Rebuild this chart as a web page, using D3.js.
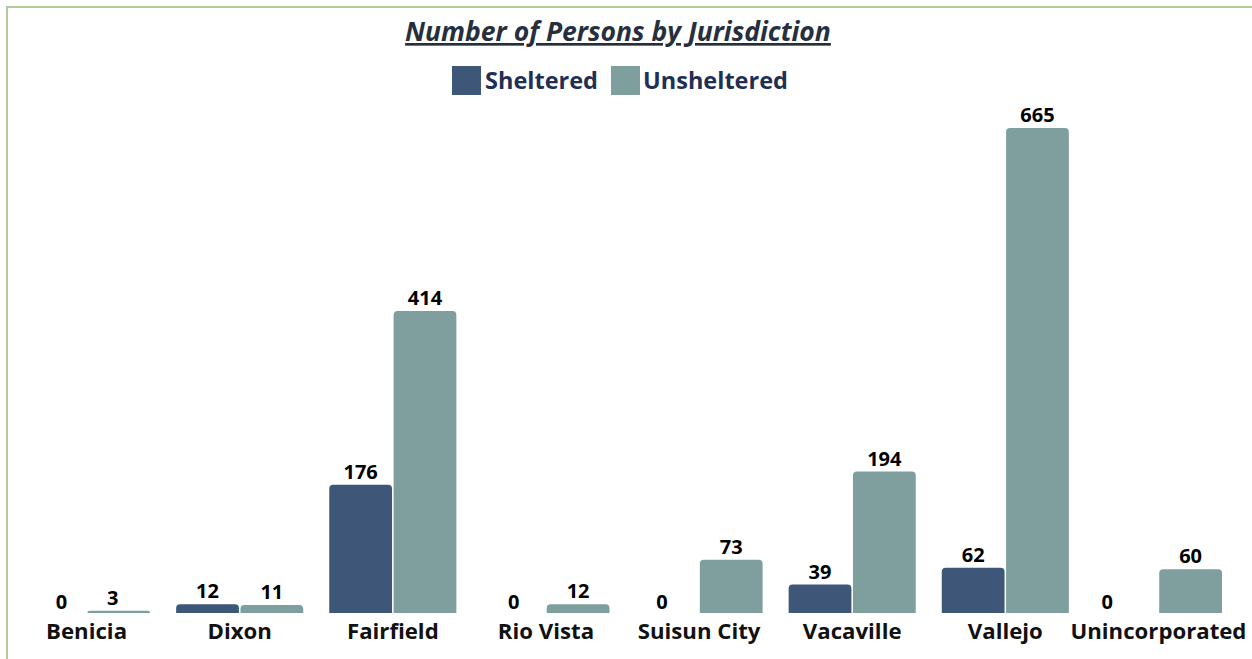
<!DOCTYPE html>
<html><head><meta charset="utf-8">
<script src="https://cdn.jsdelivr.net/npm/d3@7"></script>
<style>body{margin:0;background:#fff}svg{display:block;font-family:"Open Sans",sans-serif}</style>
</head><body>
<svg id="c" width="1252" height="659"></svg>
<script>
const categories = ["Benicia","Dixon","Fairfield","Rio Vista","Suisun City","Vacaville","Vallejo","Unincorporated"];
const sheltered = [0,12,176,0,0,39,62,0];
const unsheltered = [3,11,414,12,73,194,665,60];
const seriesNames = ["Sheltered","Unsheltered"];
const colors = ["#3E5779","#7F9F9F"];

const svg = d3.select("#c");
const W = 1252, H = 659;
svg.append("rect").attr("x",7).attr("y",7).attr("width",W+20).attr("height",H+20)
  .attr("fill","none").attr("stroke","#AECB98").attr("stroke-width",2);

svg.append("text").attr("x",618).attr("y",41).attr("text-anchor","middle")
  .attr("font-size",26.5).attr("font-weight",700).attr("font-style","italic")
  .attr("text-decoration","underline").attr("fill","#262F3E")
  .text("Number of Persons by Jurisdiction");

const legend = [{x:452,tx:485},{x:611,tx:643}];
seriesNames.forEach((n,i)=>{
  svg.append("rect").attr("x",legend[i].x).attr("y",66).attr("width",29).attr("height",29).attr("fill",colors[i]);
  svg.append("text").attr("x",legend[i].tx).attr("y",89).attr("font-size",23.5).attr("font-weight",700)
    .attr("fill","#1F2F55").text(n);
});

const baseline = 613;
const x0 = d3.scaleBand().domain(categories).range([10,1235]).paddingInner(0.17).paddingOuter(0.085);
const x1 = d3.scaleBand().domain(seriesNames).range([0,x0.bandwidth()]).paddingInner(0.024);
const y = d3.scaleLinear().domain([0,665]).range([baseline,128]);

// small horizontal label nudges (styling only), as in the original layout
const labelNudge = {"Benicia":[7,-6],"Suisun City":[-5,0],"Unincorporated":[-19,0]};

const data = categories.map((c,i)=>({c, vals:[sheltered[i],unsheltered[i]]}));
function barPath(x,w,yt,yb){
  const r = Math.min(4,(yb-yt));
  if (yb-yt<=0) return "";
  return `M${x},${yb}L${x},${yt+r}Q${x},${yt} ${x+r},${yt}L${x+w-r},${yt}Q${x+w},${yt} ${x+w},${yt+r}L${x+w},${yb}Z`;
}
const g = svg.append("g");
data.forEach(d=>{
  d.vals.forEach((v,i)=>{
    const bx = x0(d.c)+x1(seriesNames[i]);
    const bw = x1.bandwidth();
    const dx = (labelNudge[d.c]||[0,0])[i];
    g.append("path").attr("d",barPath(bx,bw,y(v),baseline)).attr("fill",colors[i]);
    g.append("text").attr("x",bx+bw/2+dx).attr("y",y(v)-(v===0?4:6)).attr("text-anchor","middle")
      .attr("font-size",20).attr("font-weight",700).attr("fill","#000").text(v);
  });
});

const ax = svg.append("g").attr("transform",`translate(0,${baseline})`)
  .call(d3.axisBottom(x0).tickSize(0).tickPadding(0));
ax.select(".domain").remove();
ax.selectAll("text").attr("dy",0).attr("y",26).attr("font-size",22.2).attr("font-weight",700)
  .attr("fill","#111").attr("font-family","'Open Sans',sans-serif");
</script>
</body></html>
